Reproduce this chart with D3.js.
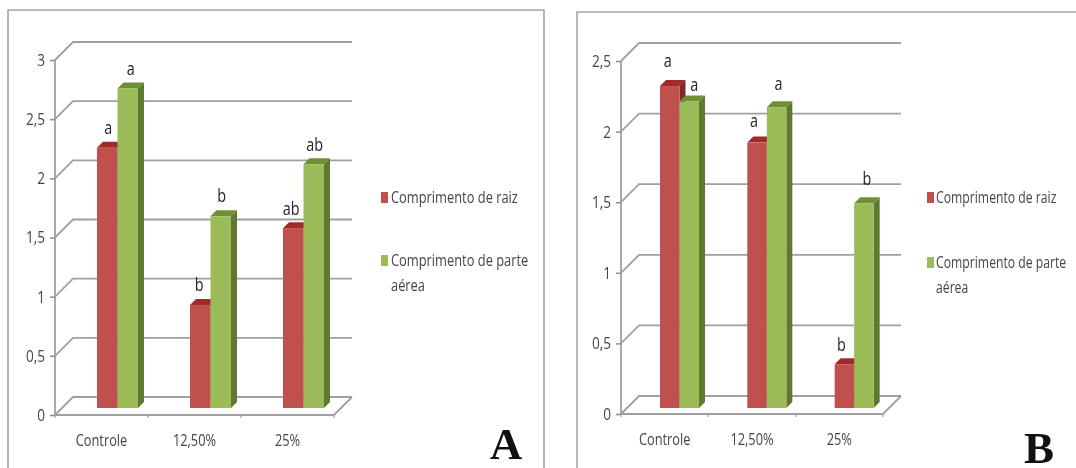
<!DOCTYPE html>
<html>
<head>
<meta charset="utf-8">
<script src="https://cdn.jsdelivr.net/npm/d3@7"></script>
<style>
  html, body { margin: 0; padding: 0; background: #fff; }
  svg { display: block; }
  .tick-label { font-family: "Open Sans", sans-serif; fill: #454545; }
  #chart { filter: blur(0.55px); }
</style>
</head>
<body>
<div id="chart"></div>
<script>
const categories = ["Controle", "12,50%", "25%"];
const seriesNames = ["Comprimento de raiz", "Comprimento de parte aérea"];

const rootA = [2.2, 0.87, 1.52];
const shootA = [2.7, 1.62, 2.06];
const rootLettersA = ["a", "b", "ab"];
const shootLettersA = ["a", "b", "ab"];
const ticksA = [0, 0.5, 1, 1.5, 2, 2.5, 3];

const rootB = [2.28, 1.88, 0.31];
const shootB = [2.17, 2.13, 1.45];
const rootLettersB = ["a", "a", "b"];
const shootLettersB = ["a", "a", "b"];
const ticksB = [0, 0.5, 1, 1.5, 2, 2.5];

const colors = {
  root: "#c0504d", rootTop: "#a32a28", rootSide: "#7f2a28",
  shoot: "#9bbb59", shootTop: "#6f8f35", shootSide: "#5f7a30"
};

const svg = d3.select("#chart").append("svg")
  .attr("width", 1076)
  .attr("height", 468);

// the original font is condensed, so squeeze the glyphs horizontally
function narrow(selection, k) {
  selection.each(function() {
    d3.select(this)
      .attr("textLength", this.getComputedTextLength() * k)
      .attr("lengthAdjust", "spacingAndGlyphs");
  });
}

function drawPanel(p) {
  const g = svg.append("g");

  // frame, open at the bottom like the cropped original
  g.append("path")
    .attr("d", `M${p.frame[0]},468V${p.frame[1]}H${p.frame[2]}` + (p.frameRightClosed ? "V468" : ""))
    .attr("fill", "none")
    .attr("stroke", "#a6a6a6")
    .attr("stroke-width", 1.6);

  const yScale = d3.scaleLinear().domain([0, d3.max(p.ticks)]).range([p.floor, p.top]);
  const xScale = d3.scaleBand().domain(categories).range([p.left, p.right]);
  const barScale = d3.scaleLinear().domain([0, d3.max(p.ticks)])
    .range([p.barBase, p.barBase - (p.floor - p.top)]);

  // back wall lines and their diagonals
  const grid = g.append("g")
    .attr("fill", "none")
    .attr("stroke", "#a0a0a0")
    .attr("stroke-width", 1.8);
  grid.selectAll("path")
    .data(p.ticks)
    .join("path")
    .attr("d", d => `M${p.left},${yScale(d)}l${p.depth},${-p.depth}H${p.right + p.depth}`);
  grid.append("path")
    .attr("d", `M${p.left},${p.top}V${p.floor}H${p.right}l${p.depth},${-p.depth}`);

  // y axis
  const yAxis = g.append("g")
    .attr("transform", `translate(${p.left},0)`)
    .call(d3.axisLeft(yScale).tickValues(p.ticks).tickSize(5).tickPadding(5)
      .tickFormat(d => String(d).replace(".", ",")));
  yAxis.select(".domain").remove();
  yAxis.selectAll("line").attr("stroke", "#8c8c8c").attr("stroke-width", 1.5);
  yAxis.selectAll("text").attr("class", "tick-label").style("font-size", "17px").call(narrow, 0.8);

  // x axis
  const xAxis = g.append("g")
    .attr("transform", `translate(0,${p.floor})`)
    .call(d3.axisBottom(xScale).tickSize(0).tickPadding(20));
  xAxis.select(".domain").remove();
  xAxis.selectAll("text").attr("class", "tick-label").style("font-size", "16px").call(narrow, 0.8);
  g.append("g").selectAll("line")
    .data(d3.range(categories.length + 1))
    .join("line")
    .attr("x1", d => p.left + d * xScale.step())
    .attr("x2", d => p.left + d * xScale.step())
    .attr("y1", p.floor)
    .attr("y2", p.floor + 3)
    .attr("stroke", "#a0a0a0")
    .attr("stroke-width", 1.2);

  // bars, root series first so the shoot bar sits in front
  const series = [
    { values: p.root, letters: p.rootLetters, nudge: p.rootNudge, offset: 0, fill: colors.root, topFill: colors.rootTop, side: colors.rootSide },
    { values: p.shoot, letters: p.shootLetters, nudge: p.shootNudge, offset: p.barW, fill: colors.shoot, topFill: colors.shootTop, side: colors.shootSide }
  ];
  const d = p.barDepth;
  series.forEach(s => {
    const bars = g.append("g").selectAll("g")
      .data(s.values)
      .join("g")
      .attr("transform", (v, i) => `translate(${xScale(categories[i]) + p.barInset + s.offset},0)`);

    bars.append("path")
      .attr("fill", s.side)
      .attr("d", v => `M${p.barW},${barScale(v)}l${d},${-d}V${p.barBase - d}l${-d},${d}Z`);
    bars.append("path")
      .attr("fill", s.topFill)
      .attr("d", v => `M0,${barScale(v)}l${d},${-d}h${p.barW}l${-d},${d}Z`);
    bars.append("rect")
      .attr("y", v => barScale(v))
      .attr("width", p.barW)
      .attr("height", v => p.barBase - barScale(v))
      .attr("fill", s.fill);

    bars.append("text")
      .attr("class", "tick-label")
      .attr("x", (v, i) => p.barW / 2 + s.nudge[i][0])
      .attr("y", (v, i) => barScale(v) - s.nudge[i][1])
      .attr("text-anchor", "middle")
      .style("font-size", "18px")
      .style("fill", "#262626")
      .text((v, i) => s.letters[i])
      .call(narrow, 0.8);
  });

  // legend, squeezed with a transform so the long lines stay inside the page
  const legend = g.append("g").attr("transform", `translate(${p.legendX},0)`);
  const legendFill = [colors.root, colors.shoot];
  const legendLines = [[seriesNames[0]], ["Comprimento de parte", "aérea"]];
  legendLines.forEach((lines, i) => {
    legend.append("rect")
      .attr("y", p.legendY[i] - 5)
      .attr("width", 7)
      .attr("height", 11)
      .attr("fill", legendFill[i]);
    lines.forEach((line, j) => {
      legend.append("text")
        .attr("class", "tick-label")
        .attr("transform", `translate(${p.legendText},${p.legendY[i] + 6 + j * 25}) scale(${p.legendSqueeze},1)`)
        .style("font-size", "16.5px")
        .text(line);
    });
  });

  // panel letter
  g.append("text")
    .attr("x", p.letterX)
    .attr("y", p.letterY)
    .attr("text-anchor", "middle")
    .style("font-family", '"Liberation Serif", serif')
    .style("font-weight", "bold")
    .style("font-size", "45px")
    .style("fill", "#111")
    .text(p.letter);
}

drawPanel({
  frame: [8, 10, 544], frameRightClosed: true,
  left: 55, right: 334, top: 60, floor: 415, depth: 18,
  barBase: 408, barW: 20.5, barDepth: 6, barInset: 42,
  ticks: ticksA, root: rootA, shoot: shootA,
  rootLetters: rootLettersA, shootLetters: shootLettersA,
  rootNudge: [[1, 14], [-1, 14], [-2, 13]],
  shootNudge: [[3, 14], [1, 14], [1, 13]],
  legendX: 381, legendY: [197, 260], legendText: 10, legendSqueeze: 0.78,
  letter: "A", letterX: 506, letterY: 459
});

drawPanel({
  frame: [577, 12, 1076], frameRightClosed: false,
  left: 621, right: 883, top: 61, floor: 414, depth: 18,
  barBase: 408, barW: 19.5, barDepth: 6, barInset: 39,
  ticks: ticksB, root: rootB, shoot: shootB,
  rootLetters: rootLettersB, shootLetters: shootLettersB,
  rootNudge: [[-2, 19], [-3, 16], [-3, 13]],
  shootNudge: [[5, 11], [2, 17], [3, 18]],
  legendX: 927, legendY: [197, 262], legendText: 9, legendSqueeze: 0.74,
  letter: "B", letterX: 1039, letterY: 463
});
</script>
</body>
</html>
